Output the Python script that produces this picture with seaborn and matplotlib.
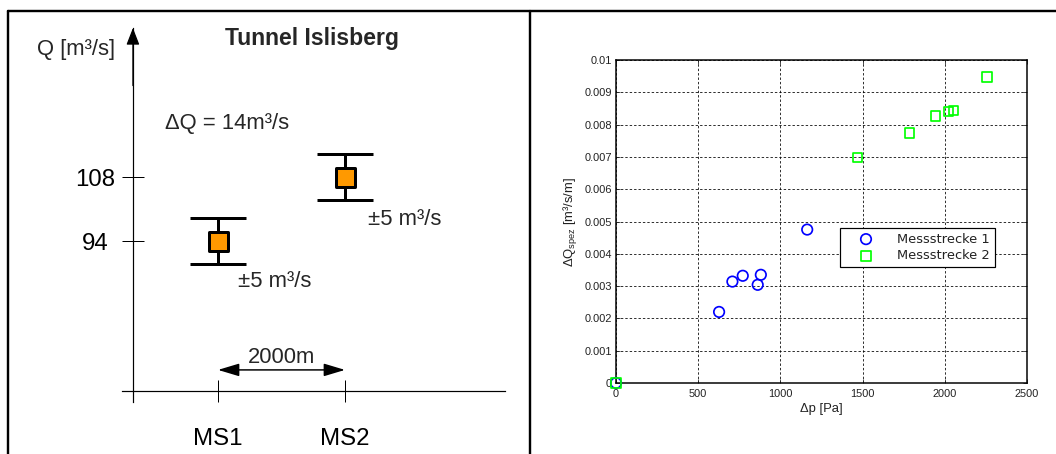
import matplotlib
matplotlib.use("Agg")
import matplotlib.pyplot as plt
from matplotlib.lines import Line2D
import seaborn as sns

# --- flow measured at the two stations (schematic panel) ---
stations = ["MS1", "MS2"]
station_pos = [0, 2000]            # m along the tunnel
flow = [94, 108]                   # m³/s
flow_err = [5, 5]                  # ± m³/s
delta_q = 14                       # m³/s
distance_m = 2000                  # m

# --- specific leakage vs. pressure difference ---
series_names = ["Messstrecke 1", "Messstrecke 2"]
ms1_dp = [0, 627, 708, 771, 862, 881, 1163]
ms1_dq = [0, 0.00220, 0.00314, 0.00332, 0.00304, 0.00335, 0.00475]
ms2_dp = [0, 1469, 1786, 1944, 2021, 2052, 2256]
ms2_dq = [0, 0.00698, 0.00774, 0.00827, 0.00840, 0.00844, 0.00947]
xticks = [0, 500, 1000, 1500, 2000, 2500]
yticks = [0, 0.001, 0.002, 0.003, 0.004, 0.005, 0.006, 0.007, 0.008, 0.009, 0.01]
ytick_labels = ["0", "0.001", "0.002", "0.003", "0.004", "0.005",
                "0.006", "0.007", "0.008", "0.009", "0.01"]

sns.set_style("white")
plt.rcParams["font.family"] = ["Liberation Sans", "DejaVu Sans"]
plt.rcParams["mathtext.fontset"] = "custom"
plt.rcParams["mathtext.rm"] = "Liberation Sans"
plt.rcParams["mathtext.it"] = "Liberation Sans"

W, H, DPI = 1056, 454, 72
fig = plt.figure(figsize=(W / DPI, H / DPI), dpi=DPI)
fig.patch.set_facecolor("white")


def box(left, top, right, bottom):
    return [left / W, 1 - bottom / H, (right - left) / W, (bottom - top) / H]


# ================= left panel: schematic =================
axL = fig.add_axes(box(122, 28, 505, 402))
axL.set_facecolor("none")
axL.set_xlim(-1512, 4520)
axL.set_ylim(58.78, 140.6)
y_axis_x = -1340
x_axis_y = 61.2
for s in ["top", "right"]:
    axL.spines[s].set_visible(False)
axL.spines["left"].set_position(("data", y_axis_x))
axL.spines["bottom"].set_position(("data", x_axis_y))
for s in ["left", "bottom"]:
    axL.spines[s].set_color("black")
    axL.spines[s].set_linewidth(1.2)

axL.set_xticks(station_pos, stations)
axL.set_yticks(flow, [str(v) for v in flow])
axL.tick_params(axis="both", direction="inout", length=22, width=1,
                labelsize=24, colors="black", left=True, bottom=True)
axL.tick_params(axis="y", pad=27)
axL.tick_params(axis="x", pad=26)
for lab in axL.get_yticklabels():
    lab.set_horizontalalignment("center")

# arrow head of the Q axis
axL.annotate("", xy=(y_axis_x, 140.6), xytext=(y_axis_x, 128),
             arrowprops=dict(arrowstyle="-|>,head_length=0.9,head_width=0.35",
                             mutation_scale=16, color="black", lw=1.2,
                             shrinkA=0, shrinkB=0),
             annotation_clip=False)

axL.errorbar(station_pos, flow, yerr=flow_err, fmt="none", ecolor="black",
             elinewidth=3, capsize=28, capthick=3, zorder=2)
sns.scatterplot(x=station_pos, y=flow, marker="s", s=19 ** 2, color="#FF9900",
                edgecolor="black", linewidth=3, ax=axL, zorder=3, legend=False)

axL.text(1480, 136.9, "Tunnel Islisberg", fontsize=23, fontweight="bold",
         ha="center", va="baseline")
axL.text(-2850, 134.7, "Q [m³/s]", fontsize=22, ha="left", va="baseline")
axL.text(-835, 118.5, f"ΔQ = {delta_q}m³/s", fontsize=22, ha="left", va="baseline")
axL.text(315, 83.9, f"±{flow_err[0]} m³/s", fontsize=22, ha="left", va="baseline")
axL.text(2362, 97.5, f"±{flow_err[1]} m³/s", fontsize=22, ha="left", va="baseline")

axL.annotate("", xy=(station_pos[1], 65.8), xytext=(station_pos[0], 65.8),
             arrowprops=dict(arrowstyle="<|-|>,head_length=1.0,head_width=0.3",
                             mutation_scale=18, color="black", lw=1.5,
                             shrinkA=0, shrinkB=0))
axL.text(sum(station_pos) / 2, 67.3, f"{distance_m}m", fontsize=22,
         ha="center", va="baseline")

# ================= right panel: scatter =================
axR = fig.add_axes(box(616, 60, 1027, 383))
axR.set_xlim(0, 2500)
axR.set_ylim(0, 0.01)
axR.set_axisbelow(True)
axR.grid(True, color="black", linestyle=(0, (3, 2.5)), linewidth=0.8)

sns.scatterplot(x=ms1_dp, y=ms1_dq, marker="o", s=110, facecolor="none",
                edgecolor="#0000FF", linewidth=1.7, label=series_names[0],
                ax=axR, clip_on=False, zorder=3)
sns.scatterplot(x=ms2_dp, y=ms2_dq, marker="s", s=90, facecolor="none",
                edgecolor="#00FF00", linewidth=1.7, label=series_names[1],
                ax=axR, clip_on=False, zorder=3)

axR.set_xticks(xticks, [str(v) for v in xticks])
axR.set_yticks(yticks, ytick_labels)
axR.tick_params(axis="both", direction="in", length=4, width=0.8,
                labelsize=11, labelcolor="#222222", top=True, right=True,
                bottom=True, left=True, pad=4)
axR.tick_params(axis="x", pad=6)
for s in axR.spines.values():
    s.set_visible(True)
    s.set_color("black")
    s.set_linewidth(1.5)

axR.set_xlabel("Δp [Pa]", fontsize=13, labelpad=4, color="#222222")
axR.set_ylabel("ΔQ$_{\\mathrm{spez}}$ [m³/s/m]", fontsize=13, labelpad=5,
               color="#222222")

leg = axR.legend(loc="upper left", bbox_to_anchor=(840 / W, 1 - 228 / H),
                 bbox_transform=fig.transFigure, borderaxespad=0,
                 frameon=True, fancybox=False, edgecolor="black",
                 framealpha=1, handlelength=3.3, handletextpad=0.75,
                 labelspacing=0.3, borderpad=0.35, scatterpoints=1,
                 prop={"family": "DejaVu Sans", "size": 13})
leg.get_frame().set_linewidth(1.2)
for t in leg.get_texts():
    t.set_color("#222222")

# ================= table frame =================
frame_kw = dict(transform=fig.transFigure, color="black", lw=2.4)
fig.add_artist(Line2D([8 / W, 1], [1 - 11 / H, 1 - 11 / H], **frame_kw))
fig.add_artist(Line2D([8 / W, 8 / W], [0, 1 - 11 / H], **frame_kw))
fig.add_artist(Line2D([530 / W, 530 / W], [0, 1 - 11 / H], **frame_kw))

fig.savefig("out.png", dpi=DPI, facecolor="white")
